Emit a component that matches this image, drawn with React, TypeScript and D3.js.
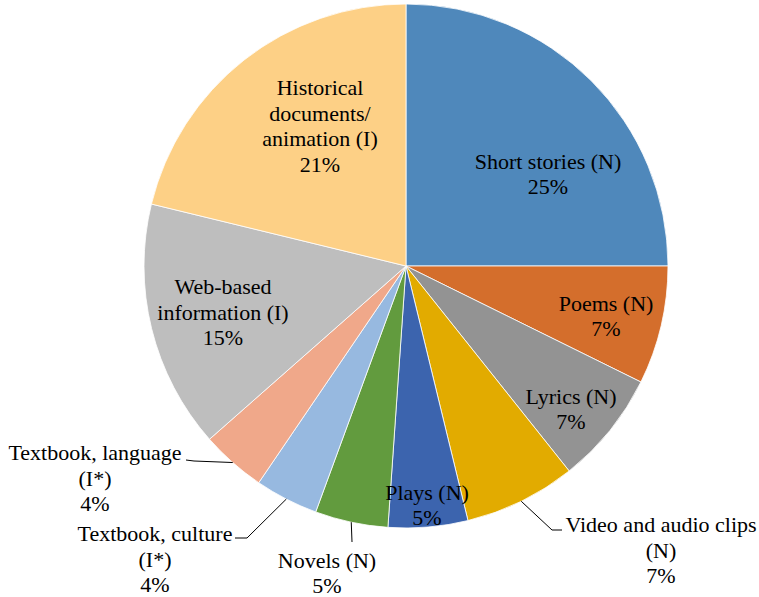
import React from 'react';
import * as d3 from "d3";

// slices clockwise from 12 o'clock
const categories = [
    "Short stories (N)",
    "Poems (N)",
    "Lyrics (N)",
    "Video and audio clips (N)",
    "Plays (N)",
    "Novels (N)",
    "Textbook, culture (I*)",
    "Textbook, language (I*)",
    "Web-based information (I)",
    "Historical documents/ animation (I)"
];
const shares = [25.0, 7.3, 7.0, 6.9, 4.9, 4.5, 3.9, 4.0, 15.3, 21.2];
// how each category label wraps
const labelLines = [
    ["Short stories (N)"],
    ["Poems (N)"],
    ["Lyrics (N)"],
    ["Video and audio clips", "(N)"],
    ["Plays (N)"],
    ["Novels (N)"],
    ["Textbook, culture", "(I*)"],
    ["Textbook, language", "(I*)"],
    ["Web-based", "information (I)"],
    ["Historical", "documents/", "animation (I)"]
];
const colors = ["#4f88bb", "#d46e2c", "#939393", "#e2ab00", "#3c64ae",
    "#629b3e", "#97b9e0", "#f0a88a", "#bebebe", "#fdd086"];

const width = 759, height = 597;
const cx = 406, cy = 266, radius = 262;
const lineH = 25.5;

// label block centres, relative to the pie centre
const labelOffset: [number, number][] = [
    [142, -92], [200, 50], [165, 143], [255, 284], [21, 239],
    [-79, 307], [-251, 293], [-311, 212], [-183, 46], [-86, -140]
];
// leader lines for the outside labels: [elbow, end] relative to the pie centre
const leaders: {[i: number]: [number, number][]} = {
    3: [[146, 264], [156, 264]],
    5: [[-54, 276], [-54, 276]],
    6: [[-159, 272], [-171, 272]],
    7: [[-212, 195], [-220, 194]]
};

export default function App() {
    const pie = d3.pie<number>().sort(null).value(d => d);
    const arcs = pie(shares);
    const arc = d3.arc<d3.PieArcDatum<number>>().innerRadius(0).outerRadius(radius);

    return (
        <svg width={width} height={height}
             style={{position: "absolute", left: 0, top: 0, background: "#fff"}}>
            <g transform={`translate(${cx},${cy})`}>
                {arcs.map((a, i) => (
                    <path key={categories[i]} d={arc(a) || ""} fill={colors[i]}
                          stroke="#ffffff" strokeWidth={0.8}/>
                ))}
                {arcs.map((a, i) => {
                    const lead = leaders[i];
                    if (!lead) return null;
                    const mid = (a.startAngle + a.endAngle) / 2;
                    const p0: [number, number] = [radius * Math.sin(mid), -radius * Math.cos(mid)];
                    const pts = [p0, ...lead];
                    return <path key={"l" + i} d={d3.line()(pts) || ""} fill="none"
                                 stroke="#000" strokeWidth={1}/>;
                })}
                {arcs.map((a, i) => {
                    const lines = [...labelLines[i], Math.round(a.data) + "%"];
                    const [dx, dy] = labelOffset[i];
                    const top = dy - (lines.length - 1) * lineH / 2;
                    return (
                        <text key={"t" + i} textAnchor="middle"
                              style={{fontFamily: "Liberation Serif", fontSize: 22}} fill="#000">
                            {lines.map((s, k) => (
                                <tspan key={k} x={dx} y={top + k * lineH} dy="0.35em">{s}</tspan>
                            ))}
                        </text>
                    );
                })}
            </g>
        </svg>
    );
}
